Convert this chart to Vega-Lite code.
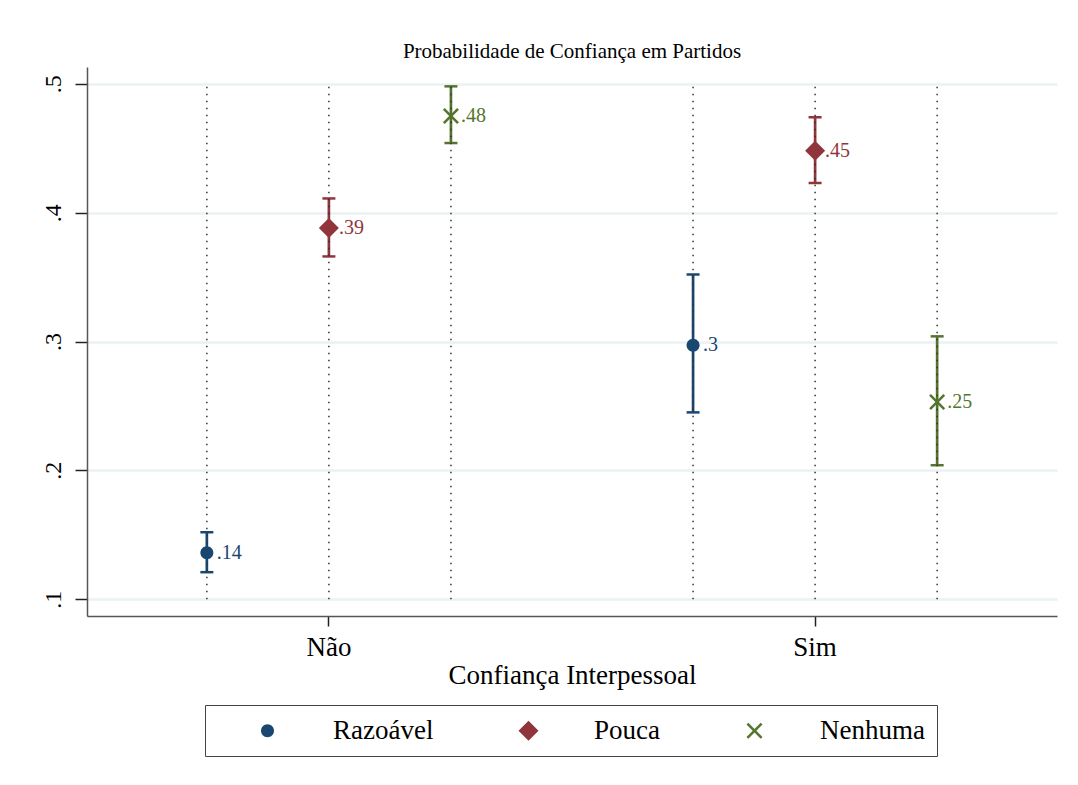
{
  "$schema": "https://vega.github.io/schema/vega-lite/v6.json",
  "width": 970,
  "height": 549,
  "autosize": {"type": "none"},
  "padding": {"left": 87, "top": 67, "right": 21, "bottom": 169},
  "background": "white",
  "title": {
    "text": "Probabilidade de Confiança em Partidos",
    "font": "Liberation Serif",
    "fontSize": 21,
    "fontWeight": "normal",
    "color": "black",
    "anchor": "middle",
    "offset": 5
  },
  "config": {
    "view": {"stroke": null},
    "font": "Liberation Serif"
  },
  "data": {
    "values": [
      {"grupo": "Não", "conf": "Razoável", "p": 0.136, "lo": 0.121, "hi": 0.152, "rotulo": ".14"},
      {"grupo": "Não", "conf": "Pouca", "p": 0.388, "lo": 0.366, "hi": 0.411, "rotulo": ".39"},
      {"grupo": "Não", "conf": "Nenhuma", "p": 0.475, "lo": 0.454, "hi": 0.498, "rotulo": ".48"},
      {"grupo": "Sim", "conf": "Razoável", "p": 0.297, "lo": 0.245, "hi": 0.352, "rotulo": ".3"},
      {"grupo": "Sim", "conf": "Pouca", "p": 0.448, "lo": 0.423, "hi": 0.474, "rotulo": ".45"},
      {"grupo": "Sim", "conf": "Nenhuma", "p": 0.253, "lo": 0.204, "hi": 0.304, "rotulo": ".25"}
    ]
  },
  "encoding": {
    "x": {
      "field": "grupo",
      "type": "nominal",
      "sort": ["Não", "Sim"],
      "scale": {"paddingInner": 0.247, "paddingOuter": 0.121},
      "axis": {
        "title": "Confiança Interpessoal",
        "titleFont": "Liberation Serif",
        "titleFontSize": 27,
        "titleFontWeight": "normal",
        "titleColor": "black",
        "titlePadding": 2,
        "labelFont": "Liberation Serif",
        "labelFontSize": 27,
        "labelColor": "black",
        "labelAngle": 0,
        "labelPadding": 8,
        "tickSize": 10,
        "tickColor": "#222",
        "tickWidth": 1.5,
        "domainColor": "#555",
        "domainWidth": 1.5,
        "bandPosition": 0.5,
        "grid": false
      }
    },
    "xOffset": {
      "field": "conf",
      "type": "nominal",
      "sort": ["Razoável", "Pouca", "Nenhuma"],
      "scale": {"paddingInner": 0, "paddingOuter": 0}
    }
  },
  "layer": [
    {
      "mark": {"type": "rule", "color": "#eaf2f3", "strokeWidth": 0},
      "encoding": {
        "y": {
          "field": "p",
          "type": "quantitative",
          "scale": {"domain": [0.087, 0.513], "nice": false, "zero": false},
          "axis": {
            "title": null,
            "values": [0.1, 0.2, 0.3, 0.4, 0.5],
            "labelExpr": "replace(format(datum.value, '.1f'), '0.', '.')",
            "labelFont": "Liberation Serif",
            "labelFontSize": 24,
            "labelColor": "black",
            "labelAngle": -90,
            "labelPadding": 10,
            "tickSize": 12,
            "tickColor": "#222",
            "tickWidth": 1.5,
            "domainColor": "#555",
            "domainWidth": 1.5,
            "grid": true,
            "gridColor": "#eaf2f3",
            "gridWidth": 2.5
          }
        }
      }
    },
    {
      "mark": {"type": "rule", "strokeWidth": 2.7},
      "encoding": {
        "y": {"field": "lo", "type": "quantitative"},
        "y2": {"field": "hi"},
        "stroke": {
          "field": "conf",
          "type": "nominal",
          "sort": ["Razoável", "Pouca", "Nenhuma"],
          "scale": {"range": ["#1a476f", "#90353b", "#55752f"]},
          "legend": null
        }
      }
    },
    {
      "mark": {"type": "tick", "size": 13, "thickness": 2.5, "orient": "horizontal", "opacity": 1},
      "encoding": {
        "y": {"field": "lo", "type": "quantitative"},
        "fill": {
          "field": "conf",
          "type": "nominal",
          "sort": ["Razoável", "Pouca", "Nenhuma"],
          "scale": {"range": ["#1a476f", "#90353b", "#55752f"]},
          "legend": null
        }
      }
    },
    {
      "mark": {"type": "tick", "size": 13, "thickness": 2.5, "orient": "horizontal", "opacity": 1},
      "encoding": {
        "y": {"field": "hi", "type": "quantitative"},
        "fill": {"field": "conf", "type": "nominal", "sort": ["Razoável", "Pouca", "Nenhuma"], "legend": null}
      }
    },
    {
      "mark": {"type": "rule", "color": "#333", "strokeWidth": 1.5, "strokeDash": [1.5, 5.5]},
      "encoding": {
        "y": {"datum": 0.1},
        "y2": {"datum": 0.5}
      }
    },
    {
      "mark": {"type": "point", "filled": true, "opacity": 1, "size": 400},
      "encoding": {
        "y": {"field": "p", "type": "quantitative"},
        "color": {
          "field": "conf",
          "type": "nominal",
          "scale": {"domain": ["Razoável", "Pouca", "Nenhuma"], "range": ["#1a476f", "#90353b", "#55752f"]},
          "legend": {
            "title": null,
            "orient": "none",
            "legendX": 118,
            "legendY": 638,
            "direction": "horizontal",
            "strokeColor": "#444",
            "padding": 12,
            "symbolOffset": 37,
            "labelOffset": 52,
            "columnPadding": 44,
            "labelFont": "Liberation Serif",
            "labelFontSize": 27,
            "labelColor": "black",
            "symbolOpacity": 1,
            "symbolSize": 400
          }
        },
        "shape": {
          "field": "conf",
          "type": "nominal",
          "scale": {"domain": ["Razoável", "Pouca", "Nenhuma"], "range": ["M0.65,0A0.65,0.65,0,1,1,-0.65,0A0.65,0.65,0,1,1,0.65,0Z", "diamond", "M-0.62,-0.8L0,-0.18L0.62,-0.8L0.8,-0.62L0.18,0L0.8,0.62L0.62,0.8L0,0.18L-0.62,0.8L-0.8,0.62L-0.18,0L-0.8,-0.62Z"]},
          "legend": {
            "title": null,
            "orient": "none",
            "legendX": 118,
            "legendY": 638,
            "direction": "horizontal",
            "strokeColor": "#444",
            "padding": 12,
            "symbolOffset": 37,
            "labelOffset": 52,
            "columnPadding": 44,
            "labelFont": "Liberation Serif",
            "labelFontSize": 27,
            "labelColor": "black",
            "symbolOpacity": 1,
            "symbolSize": 400
          }
        }
      }
    },
    {
      "mark": {"type": "text", "align": "left", "baseline": "middle", "dx": 10, "font": "Liberation Serif", "fontSize": 20},
      "encoding": {
        "y": {"field": "p", "type": "quantitative"},
        "text": {"field": "rotulo"},
        "fill": {"field": "conf", "type": "nominal", "sort": ["Razoável", "Pouca", "Nenhuma"], "legend": null}
      }
    }
  ]
}
